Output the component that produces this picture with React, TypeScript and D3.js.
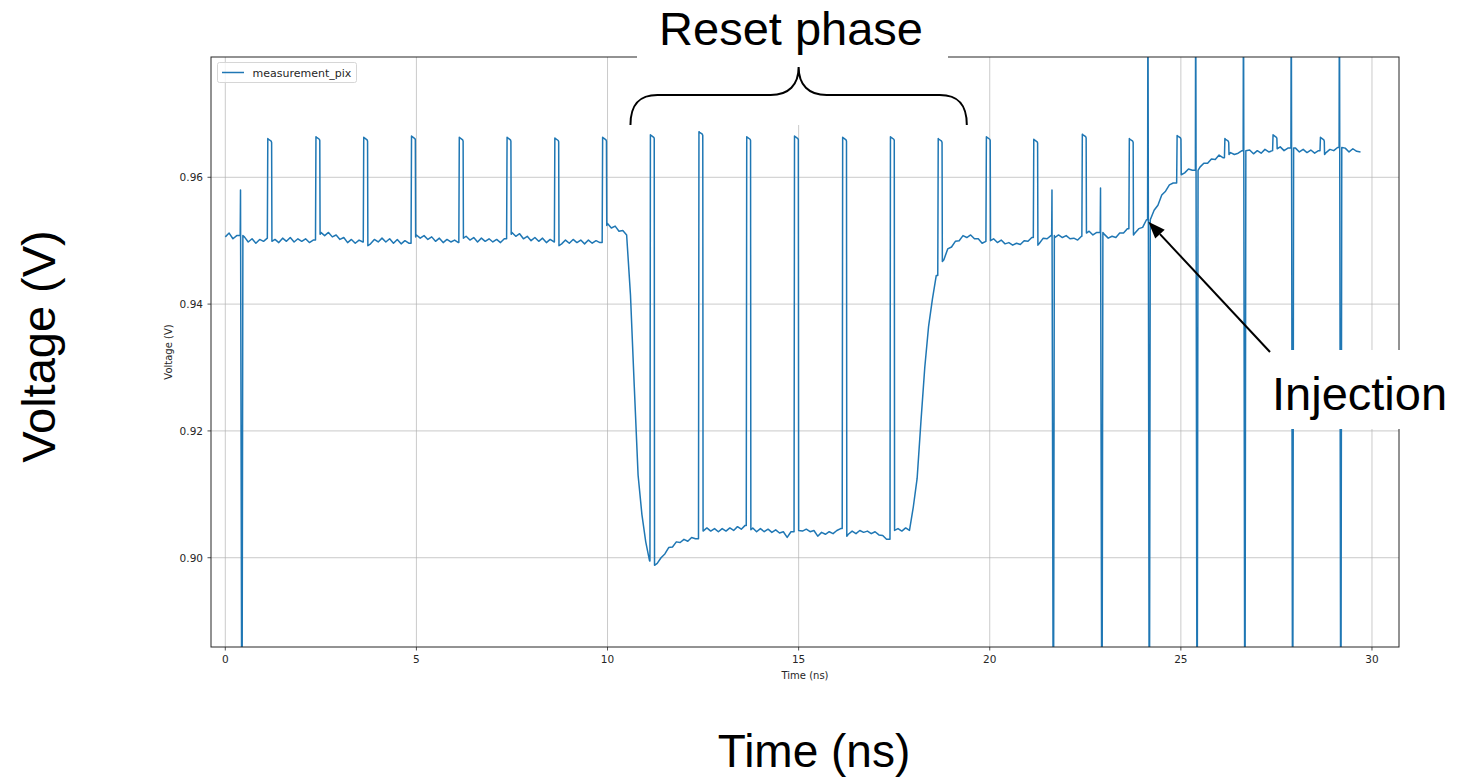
import React from "react";
import * as d3 from "d3";

// ---------- data ----------
const sampleStepNs = 0.1;
// baseline trace sampled every 0.1 ns from 0.0 to 29.7 ns (volts)
const baselineV = [
  0.9506, 0.9512, 0.9503, 0.9508, 0.9502, 0.9506, 0.9498, 0.9503, 0.9496, 0.9502,
  0.9499, 0.9504, 0.9496, 0.9502, 0.9497, 0.9504, 0.9499, 0.9505, 0.9498, 0.9503,
  0.9499, 0.9503, 0.9497, 0.9501, 0.9496, 0.9513, 0.9508, 0.9513, 0.9506, 0.9509,
  0.9502, 0.9505, 0.9497, 0.9502, 0.9496, 0.9501, 0.9498, 0.9503, 0.9495, 0.9502,
  0.9498, 0.9504, 0.9498, 0.9503, 0.9496, 0.9502, 0.9495, 0.9500, 0.9496, 0.9501,
  0.9509, 0.9504, 0.9508, 0.9502, 0.9506, 0.9499, 0.9504, 0.9497, 0.9502, 0.9498,
  0.9501, 0.9497, 0.9501, 0.9507, 0.9501, 0.9505, 0.9498, 0.9504, 0.9499, 0.9503,
  0.9498, 0.9502, 0.9497, 0.9503, 0.9505, 0.9513, 0.9507, 0.9511, 0.9503, 0.9507,
  0.9500, 0.9505, 0.9499, 0.9504, 0.9497, 0.9502, 0.9498, 0.9501, 0.9495, 0.9501,
  0.9496, 0.9502, 0.9497, 0.9501, 0.9495, 0.9501, 0.9496, 0.9500, 0.9497, 0.9502,
  0.9527, 0.9520, 0.9523, 0.9515, 0.9516, 0.9509, 0.9415, 0.9270, 0.9130, 0.9068,
  0.9025, 0.8995, 0.8992, 0.8991, 0.9000, 0.9006, 0.9016, 0.9017, 0.9025, 0.9024,
  0.9029, 0.9026, 0.9032, 0.9030, 0.9040, 0.9045, 0.9047, 0.9042, 0.9046, 0.9041,
  0.9046, 0.9042, 0.9047, 0.9043, 0.9049, 0.9045, 0.9051, 0.9045, 0.9047, 0.9041,
  0.9046, 0.9041, 0.9045, 0.9040, 0.9044, 0.9039, 0.9041, 0.9032, 0.9041, 0.9042,
  0.9046, 0.9042, 0.9045, 0.9041, 0.9043, 0.9034, 0.9040, 0.9037, 0.9041, 0.9038,
  0.9043, 0.9046, 0.9040, 0.9037, 0.9042, 0.9038, 0.9043, 0.9040, 0.9042, 0.9038,
  0.9041, 0.9036, 0.9035, 0.9029, 0.9036, 0.9044, 0.9046, 0.9042, 0.9047, 0.9043,
  0.9080, 0.9125, 0.9215, 0.9300, 0.9365, 0.9408, 0.9445, 0.9462, 0.9470, 0.9487,
  0.9490, 0.9499, 0.9500, 0.9508, 0.9505, 0.9509, 0.9503, 0.9503, 0.9496, 0.9499,
  0.9500, 0.9503, 0.9497, 0.9501, 0.9495, 0.9497, 0.9493, 0.9496, 0.9494, 0.9500,
  0.9499, 0.9505, 0.9500, 0.9496, 0.9504, 0.9503, 0.9508, 0.9505, 0.9509, 0.9505,
  0.9508, 0.9503, 0.9504, 0.9501, 0.9507, 0.9512, 0.9515, 0.9509, 0.9513, 0.9510,
  0.9510, 0.9504, 0.9507, 0.9505, 0.9512, 0.9512, 0.9519, 0.9516, 0.9512, 0.9519,
  0.9521, 0.9533, 0.9537, 0.9548, 0.9556, 0.9572, 0.9578, 0.9588, 0.9591, 0.9600,
  0.9605, 0.9607, 0.9613, 0.9611, 0.9617, 0.9616, 0.9622, 0.9622, 0.9629, 0.9628,
  0.9635, 0.9631, 0.9635, 0.9639, 0.9636, 0.9638, 0.9642, 0.9636, 0.9643, 0.9637,
  0.9642, 0.9638, 0.9644, 0.9640, 0.9642, 0.9646, 0.9648, 0.9642, 0.9646, 0.9643,
  0.9646, 0.9640, 0.9644, 0.9639, 0.9643, 0.9638, 0.9642, 0.9640, 0.9639, 0.9644,
  0.9642, 0.9647, 0.9641, 0.9646, 0.9640, 0.9645, 0.9641, 0.9640,
];

// square pulses (start time, top level)
const pulseStartNs = [
  1.10, 2.36, 3.61, 4.86, 6.11, 7.36, 8.61, 9.86,
  11.11, 12.38, 13.63, 14.88, 16.14, 17.39, 18.64,
  19.90, 21.14, 22.41, 23.64, 24.89, 26.14, 27.40, 28.64,
];
const pulseTopV = [
  0.9661, 0.9664, 0.9663, 0.9665, 0.9663, 0.9663, 0.9662, 0.9663,
  0.9667, 0.9672, 0.9664, 0.9665, 0.9663, 0.9664, 0.9661,
  0.9664, 0.9660, 0.9668, 0.9661, 0.9666, 0.9661, 0.9667, 0.9663,
];
const pulseWidthNs = 0.12;

// narrow glitches (time, upper excursion, lower excursion)
const glitchNs = [0.39, 21.62, 22.89, 24.13, 25.38, 26.63, 27.88, 29.14];
const glitchHighV = [0.958, 0.958, 0.9583, 0.995, 0.995, 0.995, 0.995, 0.995];
const glitchLowV = [0.86, 0.86, 0.86, 0.86, 0.86, 0.86, 0.86, 0.86];

const xTicks = [0, 5, 10, 15, 20, 25, 30];
const yTicks = [0.9, 0.92, 0.94, 0.96];
const xLimits = [-0.374, 30.707];
const yLimits = [0.88592, 0.97897];

const seriesName = "measurement_pix";

// ---------- build the trace ----------
function buildTrace(): [number, number][] {
  const pts: [number, number][] = [];
  const inWindow = (t: number) =>
    pulseStartNs.some((s) => t >= s - 1e-6 && t <= s + pulseWidthNs + 1e-6) ||
    glitchNs.some((g) => t >= g - 1e-6 && t <= g + 0.07 + 1e-6);
  baselineV.forEach((v, i) => {
    const t = i / 10;
    if (!inWindow(t)) pts.push([t, v]);
  });
  pulseStartNs.forEach((s, k) => {
    const top = pulseTopV[k];
    const b0 = baselineV[Math.floor(s / sampleStepNs + 1e-6)];
    const b1 = baselineV[Math.min(baselineV.length - 1, Math.ceil((s + pulseWidthNs) / sampleStepNs - 1e-6))];
    pts.push([s, b0]);
    pts.push([s + 0.012, top]);
    pts.push([s + 0.03, top - 0.0001]);
    pts.push([s + 0.1, top - 0.0004]);
    pts.push([s + 0.112, top - 0.0006]);
    pts.push([s + pulseWidthNs, b1 - 0.0003]);
  });
  glitchNs.forEach((g, k) => {
    const b = baselineV[Math.floor(g / sampleStepNs + 1e-6)];
    pts.push([g, b]);
    pts.push([g + 0.008, glitchHighV[k]]);
    pts.push([g + 0.045, glitchLowV[k]]);
    pts.push([g + 0.07, b]);
  });
  pts.sort((a, b) => a[0] - b[0]);
  return pts;
}

const W = 1478;
const H = 777;
const L = 211, R = 1399, T = 57, B = 647;

export default function App() {
  const x = d3.scaleLinear().domain(xLimits).range([L, R]);
  const y = d3.scaleLinear().domain(yLimits).range([B, T]);
  const trace = buildTrace();
  const line = d3
    .line<[number, number]>()
    .x((d) => x(d[0]))
    .y((d) => y(d[1]));
  const mplFont = "'DejaVu Sans', sans-serif";
  const annFont = "'Liberation Sans', Arial, sans-serif";

  // annotation anchors in data space
  const braceL = x(10.6), braceR = x(19.4), braceM = x(15.0);
  const arrowTip: [number, number] = [x(24.15), y(0.953)];
  const arrowTail: [number, number] = [1270, 352];
  const dx = arrowTail[0] - arrowTip[0], dy = arrowTail[1] - arrowTip[1];
  const len = Math.hypot(dx, dy);
  const ux = dx / len, uy = dy / len;
  const hl = 17, hw = 6.5;
  const headBase: [number, number] = [arrowTip[0] + ux * hl, arrowTip[1] + uy * hl];
  const head = [
    arrowTip,
    [headBase[0] - uy * hw, headBase[1] + ux * hw],
    [headBase[0] + uy * hw, headBase[1] - ux * hw],
  ];

  const bracePath = `M${braceL},125 C${braceL},103 ${braceL + 10},95 ${braceL + 27},95 L${braceM - 28},95 C${braceM - 10},95 ${braceM},85 ${braceM},67 C${braceM},85 ${braceM + 10},95 ${braceM + 28},95 L${braceR - 27},95 C${braceR - 10},95 ${braceR},103 ${braceR},125`;

  return (
    <svg
      width={W}
      height={H}
      style={{ position: "absolute", left: 0, top: 0, background: "#fff" }}
    >
      <defs>
        <clipPath id="plotClip">
          <rect x={L} y={T} width={R - L} height={B - T} />
        </clipPath>
      </defs>
      <rect x={0} y={0} width={W} height={H} fill="#fff" />

      {/* grid */}
      <g stroke="#b0b0b0" strokeWidth={0.8} strokeOpacity={0.85}>
        {xTicks.map((t) => (
          <line key={"gx" + t} x1={x(t)} x2={x(t)} y1={T} y2={B} />
        ))}
        {yTicks.map((t) => (
          <line key={"gy" + t} x1={L} x2={R} y1={y(t)} y2={y(t)} />
        ))}
      </g>

      {/* data */}
      <path
        d={line(trace) || ""}
        fill="none"
        stroke="#1f77b4"
        strokeWidth={1.5}
        strokeLinejoin="round"
        clipPath="url(#plotClip)"
      />

      {/* spines */}
      <rect x={L} y={T} width={R - L} height={B - T} fill="none" stroke="#262626" strokeWidth={1} />

      {/* ticks */}
      <g stroke="#262626" strokeWidth={0.8}>
        {xTicks.map((t) => (
          <line key={"tx" + t} x1={x(t)} x2={x(t)} y1={B} y2={B + 3.5} />
        ))}
        {yTicks.map((t) => (
          <line key={"ty" + t} x1={L - 3.5} x2={L} y1={y(t)} y2={y(t)} />
        ))}
      </g>
      <g fontFamily={mplFont} fontSize={10.5} fill="#262626">
        {xTicks.map((t) => (
          <text key={"lx" + t} x={x(t)} y={663} textAnchor="middle">
            {t}
          </text>
        ))}
        {yTicks.map((t) => (
          <text key={"ly" + t} x={203} y={y(t) + 4} textAnchor="end">
            {t.toFixed(2)}
          </text>
        ))}
        <text x={(L + R) / 2} y={679} textAnchor="middle" fontSize={10}>
          Time (ns)
        </text>
        <text transform={`translate(172,${(T + B) / 2}) rotate(-90)`} textAnchor="middle" fontSize={10}>
          Voltage (V)
        </text>
      </g>

      {/* legend */}
      <rect x={217.5} y={62.5} width={139} height={20} rx={2} fill="#fff" fillOpacity={0.8} stroke="#d6d6d6" />
      <line x1={222} x2={244} y1={72.5} y2={72.5} stroke="#1f77b4" strokeWidth={1.5} />
      <text x={252.5} y={76.5} fontFamily={mplFont} fontSize={11} fill="#262626">
        {seriesName}
      </text>

      {/* annotation: reset phase */}
      <rect x={637} y={0} width={311} height={60} fill="#fff" />
      <rect x={braceL - 2} y={60} width={braceR - braceL + 4} height={65} fill="#fff" />
      <path d={bracePath} fill="none" stroke="#000" strokeWidth={2} />
      <text x={791} y={45} textAnchor="middle" fontFamily={annFont} fontSize={47} fill="#000">
        Reset phase
      </text>

      {/* annotation: injection */}
      <rect x={1262} y={350} width={200} height={79} fill="#fff" />
      <line
        x1={arrowTail[0]}
        y1={arrowTail[1]}
        x2={headBase[0]}
        y2={headBase[1]}
        stroke="#000"
        strokeWidth={2}
      />
      <polygon points={head.map((p) => p.join(",")).join(" ")} fill="#000" />
      <text x={1272} y={410} fontFamily={annFont} fontSize={47} fill="#000">
        Injection
      </text>

      {/* big axis labels */}
      <text x={814} y={767} textAnchor="middle" fontFamily={annFont} fontSize={46} fill="#000">
        Time (ns)
      </text>
      <text
        transform="translate(55,346.5) rotate(-90)"
        textAnchor="middle"
        fontFamily={annFont}
        fontSize={47}
        fill="#000"
      >
        Voltage (V)
      </text>
    </svg>
  );
}
